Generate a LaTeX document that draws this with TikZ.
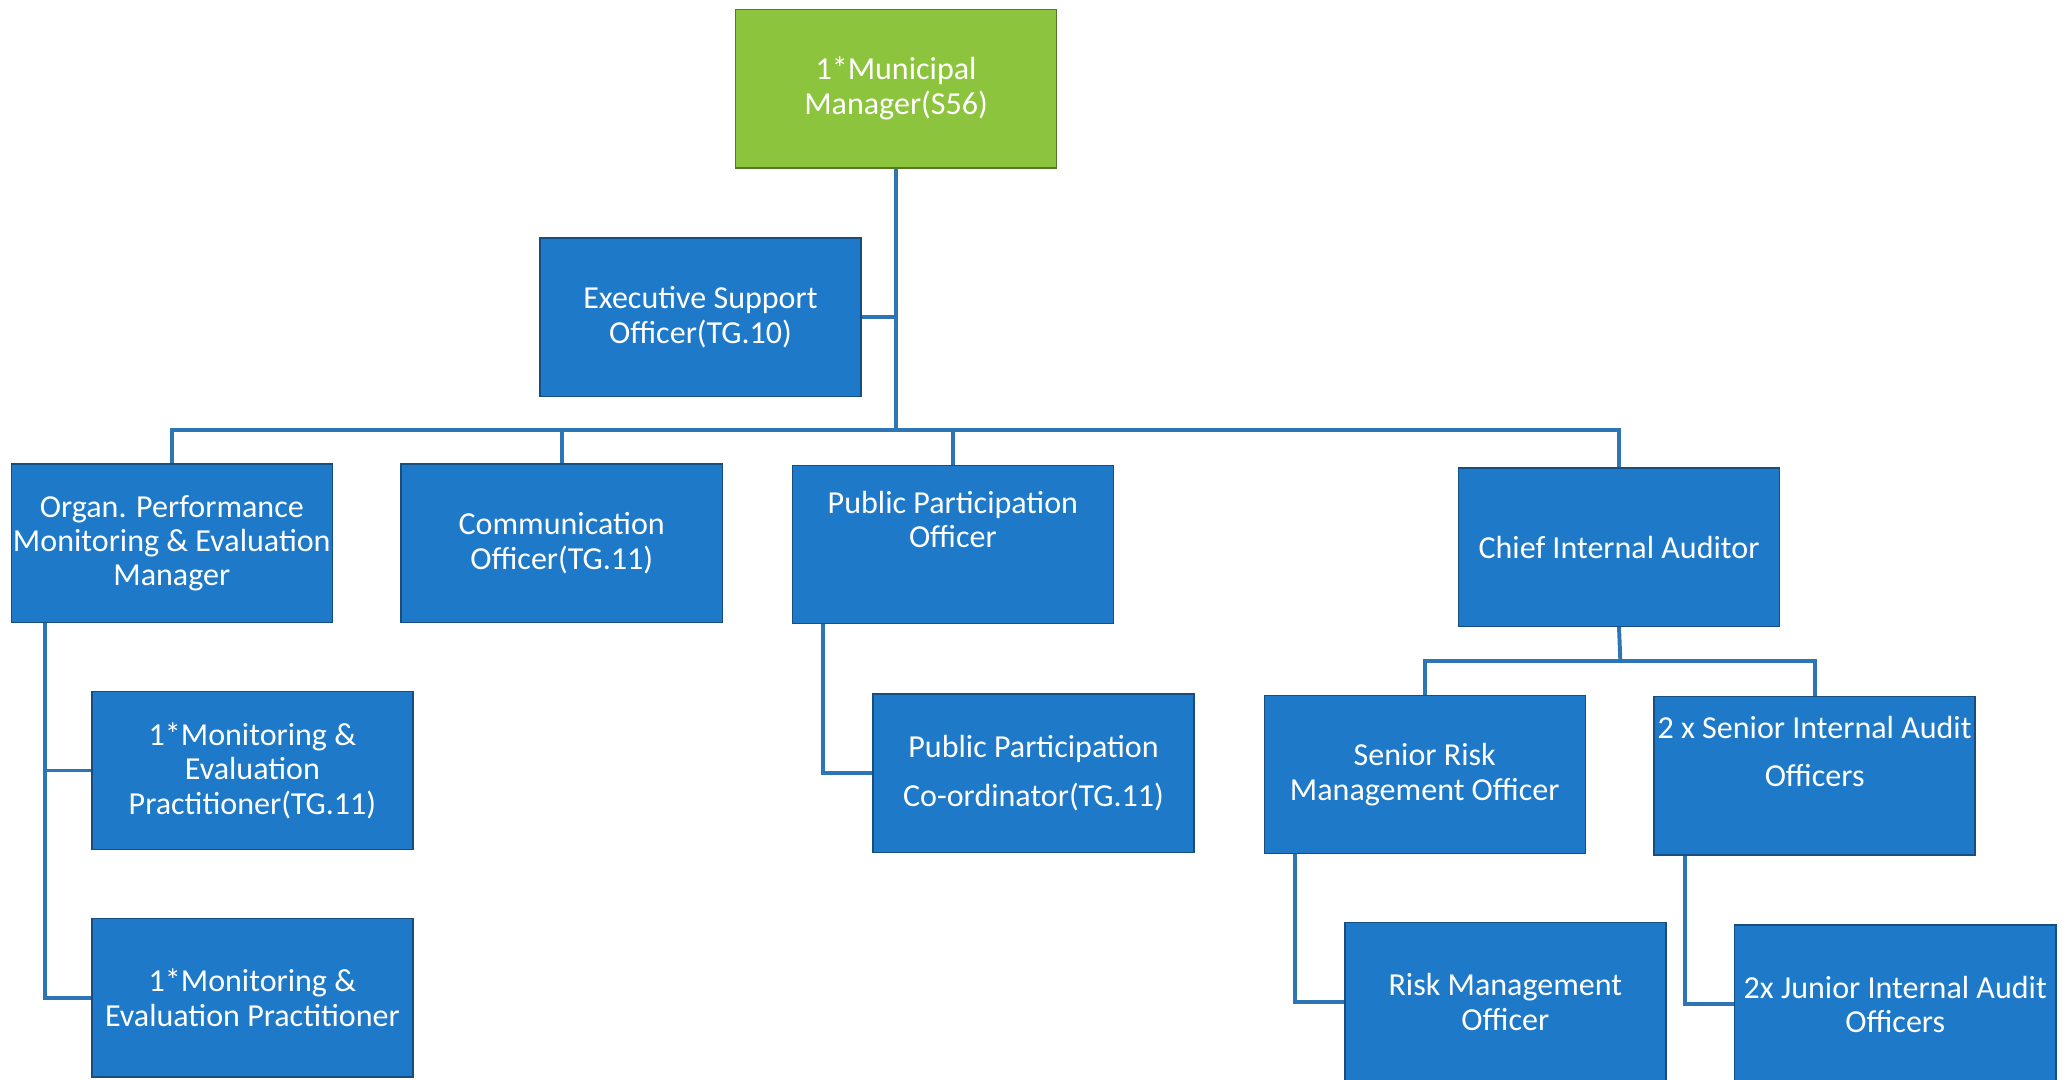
\documentclass[tikz,border=0pt]{standalone}
\usepackage{fontspec}
\setmainfont{Carlito}
\usetikzlibrary{positioning}
\definecolor{boxblue}{RGB}{30,122,201}
\definecolor{boxedge}{RGB}{22,78,130}
\definecolor{mmgreen}{RGB}{141,196,62}
\definecolor{mmedge}{RGB}{84,120,40}
\definecolor{linkblue}{RGB}{46,117,182}
\tikzset{
	post/.style={draw=boxedge,fill=boxblue,text=white,line width=0.6pt,minimum width=4.86cm,minimum height=2.4cm,inner sep=0pt,align=center,font=\fontsize{13.8}{14.8}\selectfont},
	head/.style={post,draw=mmedge,fill=mmgreen},
	link/.style={draw=linkblue,line width=1.7pt}
}
\begin{document}
\begin{tikzpicture}[x=0.02cm,y=-0.02cm]
	\useasboundingbox (0,0) rectangle (1567,817);
	\node[head] (mm) at (678,67) {1*Municipal\\Manager(S56)};
	\node[post] (exec) at (530,240) {Executive Support\\Officer(TG.10)};
	\node[post] (perf) at (130,411) {Organ. Performance\\Monitoring \& Evaluation\\Manager};
	\node[post] (comm) at (425,411) {Communication\\Officer(TG.11)};
	\node[post] (ppo) at (721,412) {Public Participation\\Officer\\[7pt]~};
	\node[post] (cia) at (1225,414) {Chief Internal Auditor};
	\node[post] (mep1) at (191,583) {1*Monitoring \&\\Evaluation\\Practitioner(TG.11)};
	\node[post] (mep2) at (191,755) {1*Monitoring \&\\Evaluation Practitioner};
	\node[post] (ppc) at (782,585) {Public Participation\\[6pt]Co-ordinator(TG.11)};
	\node[post] (srmo) at (1078,586) {Senior Risk\\Management Officer};
	\node[post] (sia) at (1373,587) {2 x Senior Internal Audit\\[6pt]Officers\\[6pt]~};
	\node[post] (rmo) at (1139,758) {Risk Management\\Officer};
	\node[post] (jia) at (1434,760) {2x Junior Internal Audit\\Officers};
	\coordinate (topbus) at (678,325);
	\coordinate (auditbus) at (1226,500);
	\begin{scope}[link]
		\draw (mm.south) -- (topbus);
		\draw (exec.east) -- (exec.east -| mm.south);
		\foreach \n in {perf,comm,ppo,cia}
			\draw (topbus) -| (\n.north);
		\draw (cia.south) -- (auditbus);
		\foreach \n in {srmo,sia}
			\draw (auditbus) -| (\n.north);
		\draw ([xshift=0.52cm]perf.south west) |- (mep1.west);
		\draw ([xshift=0.52cm]perf.south west) |- (mep2.west);
		\draw ([xshift=0.48cm]ppo.south west) |- (ppc.west);
		\draw ([xshift=0.48cm]srmo.south west) |- (rmo.west);
		\draw ([xshift=0.48cm]sia.south west) |- (jia.west);
	\end{scope}
\end{tikzpicture}
\end{document}
